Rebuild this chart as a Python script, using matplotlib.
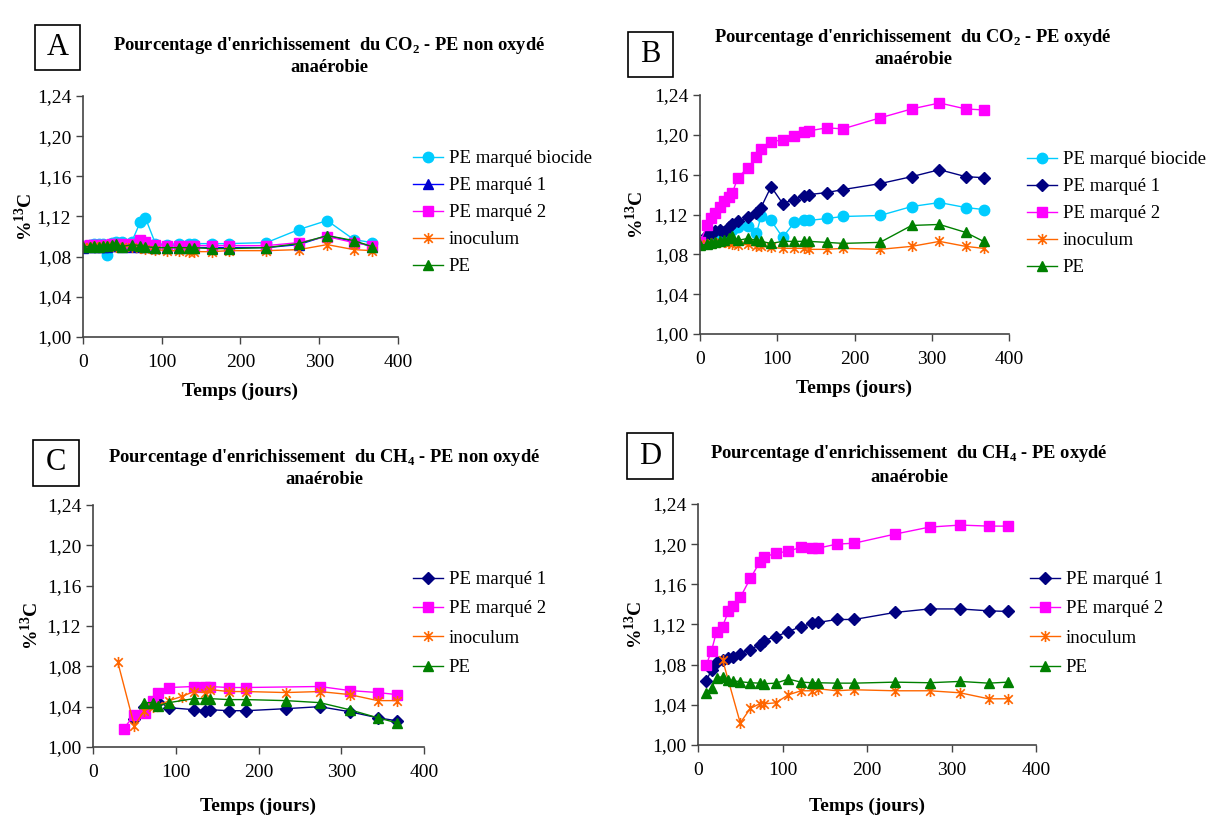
import numpy as np
import matplotlib
matplotlib.use('Agg')
import matplotlib.pyplot as plt
from matplotlib.path import Path
from matplotlib.patches import Rectangle

plt.rcParams['font.family'] = ['Liberation Serif', 'DejaVu Serif']
plt.rcParams['mathtext.fontset'] = 'custom'
plt.rcParams['mathtext.rm'] = 'Liberation Serif'
plt.rcParams['mathtext.bf'] = 'Liberation Serif:bold'

# ---- data ----
days_ab = [0, 9, 14, 20, 26, 31, 37, 42, 49, 62, 73, 79, 92, 107, 122, 135, 141, 164, 185, 233, 274, 310, 344, 367]

a_biocide = [1.091, 1.092, 1.093, 1.093, 1.093, 1.082, 1.094, 1.095, 1.095, 1.095, 1.115, 1.119, 1.093, 1.092,
             1.093, 1.093, 1.093, 1.093, 1.093, 1.094, 1.107, 1.116, 1.097, 1.094]
a_marque1 = [1.089, 1.090, 1.090, 1.090, 1.090, 1.090, 1.091, 1.091, 1.090, 1.090, 1.090, 1.090, 1.089, 1.089,
             1.089, 1.089, 1.089, 1.089, 1.089, 1.089, 1.092, 1.101, 1.095, 1.090]
a_marque2 = [1.091, 1.092, 1.092, 1.092, 1.092, 1.092, 1.093, 1.093, 1.093, 1.093, 1.097, 1.095, 1.092, 1.091,
             1.091, 1.091, 1.091, 1.091, 1.091, 1.091, 1.094, 1.100, 1.094, 1.091]
a_inoculum = [1.090, 1.090, 1.091, 1.090, 1.091, 1.091, 1.091, 1.090, 1.090, 1.090, 1.089, 1.088, 1.087, 1.086,
              1.086, 1.085, 1.085, 1.085, 1.086, 1.086, 1.087, 1.092, 1.087, 1.086]
a_pe = [1.090, 1.090, 1.091, 1.090, 1.091, 1.091, 1.092, 1.093, 1.090, 1.092, 1.091, 1.090, 1.089, 1.089,
        1.089, 1.089, 1.089, 1.088, 1.088, 1.089, 1.093, 1.101, 1.096, 1.090]

b_biocide = [1.091, 1.093, 1.094, 1.097, 1.096, 1.099, 1.102, 1.104, 1.107, 1.108, 1.101, 1.118, 1.114, 1.097,
             1.112, 1.114, 1.114, 1.116, 1.118, 1.119, 1.128, 1.132, 1.127, 1.125]
b_marque1 = [1.090, 1.099, 1.100, 1.103, 1.104, 1.102, 1.107, 1.110, 1.113, 1.117, 1.122, 1.127, 1.148, 1.131,
             1.135, 1.139, 1.140, 1.142, 1.145, 1.151, 1.158, 1.165, 1.158, 1.157]
b_marque2 = [1.092, 1.109, 1.116, 1.122, 1.128, 1.134, 1.138, 1.142, 1.157, 1.167, 1.178, 1.186, 1.193, 1.195,
             1.199, 1.203, 1.204, 1.207, 1.206, 1.217, 1.226, 1.232, 1.226, 1.225]
b_inoculum = [1.090, 1.090, 1.091, 1.091, 1.092, 1.092, 1.091, 1.090, 1.089, 1.090, 1.088, 1.088, 1.087, 1.086,
              1.086, 1.086, 1.085, 1.085, 1.086, 1.085, 1.088, 1.093, 1.088, 1.086]
b_pe = [1.089, 1.090, 1.091, 1.092, 1.093, 1.094, 1.096, 1.098, 1.094, 1.096, 1.094, 1.093, 1.091, 1.093,
        1.093, 1.093, 1.093, 1.092, 1.091, 1.092, 1.109, 1.110, 1.102, 1.093]

c_marque1_days = [50, 62, 73, 79, 92, 122, 135, 141, 164, 185, 233, 274, 310, 344, 367]
c_marque1 = [1.028, 1.040, 1.044, 1.045, 1.039, 1.037, 1.036, 1.037, 1.036, 1.036, 1.038, 1.040, 1.035, 1.029, 1.026]
c_marque2_days = [37, 50, 63, 73, 79, 92, 122, 135, 141, 164, 185, 274, 310, 344, 367]
c_marque2 = [1.018, 1.032, 1.034, 1.046, 1.054, 1.059, 1.060, 1.060, 1.060, 1.059, 1.059, 1.060, 1.056, 1.054, 1.052]
c_inoculum_days = [30, 50, 62, 73, 79, 92, 107, 122, 135, 141, 164, 185, 233, 274, 310, 344, 367]
c_inoculum = [1.084, 1.021, 1.036, 1.040, 1.041, 1.046, 1.050, 1.055, 1.054, 1.057, 1.055, 1.055, 1.054, 1.055,
              1.052, 1.046, 1.046]
c_pe_days = [62, 73, 79, 92, 122, 135, 141, 164, 185, 233, 274, 310, 344, 367]
c_pe = [1.044, 1.044, 1.041, 1.044, 1.048, 1.048, 1.048, 1.047, 1.047, 1.046, 1.044, 1.037, 1.029, 1.024]

days_d = [10, 16, 22, 29, 36, 41, 50, 62, 73, 78, 92, 107, 122, 135, 142, 164, 185, 233, 274, 310, 344, 367]
d_marque1 = [1.064, 1.075, 1.083, 1.085, 1.0865, 1.088, 1.091, 1.095, 1.100, 1.104, 1.108, 1.113, 1.118, 1.121,
             1.122, 1.125, 1.125, 1.132, 1.1355, 1.1355, 1.1336, 1.133]
d_marque2 = [1.080, 1.094, 1.113, 1.118, 1.133, 1.138, 1.147, 1.166, 1.182, 1.187, 1.191, 1.193, 1.197, 1.1965,
             1.196, 1.200, 1.201, 1.210, 1.217, 1.219, 1.218, 1.218]
d_pe = [1.052, 1.057, 1.067, 1.068, 1.065, 1.064, 1.063, 1.062, 1.0616, 1.061, 1.0616, 1.0656, 1.0626, 1.062,
        1.062, 1.0616, 1.0616, 1.0626, 1.062, 1.0633, 1.0616, 1.0626]
d_inoculum_days = [29, 50, 62, 73, 78, 92, 107, 122, 135, 142, 164, 185, 233, 274, 310, 344, 367]
d_inoculum = [1.085, 1.022, 1.0365, 1.041, 1.041, 1.042, 1.050, 1.054, 1.054, 1.056, 1.054, 1.055, 1.054, 1.054,
              1.052, 1.046, 1.046]

yticks = [1.00, 1.04, 1.08, 1.12, 1.16, 1.20, 1.24]
xticks = [0, 100, 200, 300, 400]

# excel style asterisk marker
asterisk = Path([(-1, -1), (1, 1), (-1, 1), (1, -1), (0, -1.3), (0, 1.3)],
                [Path.MOVETO, Path.LINETO, Path.MOVETO, Path.LINETO, Path.MOVETO, Path.LINETO])

sty = {
    'biocide': dict(color='#00CCFF', marker='o', ms=7.5, mec='#00CCFF', mfc='#00CCFF'),
    'm1_tri': dict(color='#0000FF', marker='^', ms=7.5, mec='#0000CC', mfc='#0000CC'),
    'm1': dict(color='#000080', marker='D', ms=6.5, mec='#000080', mfc='#000080'),
    'm2': dict(color='#FF00FF', marker='s', ms=7.5, mec='#FF00FF', mfc='#FF00FF'),
    'ino': dict(color='#FF6600', marker=asterisk, ms=8, mec='#FF6600', mfc='none', mew=1.2),
    'pe': dict(color='#008000', marker='^', ms=7.5, mec='#008000', mfc='#008000'),
}

W, H = 1207, 816
fig = plt.figure(figsize=(W / 100, H / 100), dpi=100)


def px_axes(x0, y0, x1, y1):
    return fig.add_axes([x0 / W, 1 - y1 / H, (x1 - x0) / W, (y1 - y0) / H])


def style_axes(ax, ylab_x, xlab_y):
    ax.set_xlim(0, 400)
    ax.set_ylim(1.00, 1.24)
    ax.set_xticks(xticks)
    ax.set_yticks(yticks)
    ax.set_yticklabels([('%.2f' % v).replace('.', ',') for v in yticks])
    ax.spines['top'].set_visible(False)
    ax.spines['right'].set_visible(False)
    for s in ('left', 'bottom'):
        ax.spines[s].set_color('#444444')
        ax.spines[s].set_linewidth(1.2)
    ax.tick_params(direction='out', length=5, width=1, colors='#444444', labelcolor='black',
                   labelsize=14)
    ax.tick_params(axis='x', pad=7)
    ax.set_xlabel('Temps (jours)', fontsize=14, fontweight='bold')
    ax.set_ylabel(r'%$^{\mathbf{13}}$C', fontsize=14, fontweight='bold')
    ax.yaxis.set_label_coords(ylab_x, 0.5)
    ax.xaxis.set_label_coords(0.5, xlab_y)


def letter_box(x0, y0, size, letter):
    fig.patches.append(Rectangle((x0 / W, 1 - (y0 + size) / H), size / W, size / H,
                                 transform=fig.transFigure, fill=False, ec='black', lw=1.2))
    fig.text((x0 + size / 2) / W, 1 - (y0 + size / 2) / H, letter, fontsize=22,
             ha='center', va='center')


def title(xc, y1, y2, line1):
    fig.text(xc / W, 1 - y1 / H, line1, fontsize=13.3, fontweight='bold', ha='center', va='center')
    fig.text(xc / W, 1 - y2 / H, 'anaérobie', fontsize=13.3, fontweight='bold', ha='center', va='center')


def legend(ax, x, y, spacing=0.53):
    ax.legend(loc='upper left', bbox_to_anchor=(x / W, 1 - y / H), bbox_transform=fig.transFigure,
              frameon=False, fontsize=13.5, handlelength=1.6, handletextpad=0.3, labelspacing=spacing,
              borderaxespad=0, borderpad=0)


# ---- A ----
axA = px_axes(83, 96, 398, 337)
axA.plot(days_ab, a_biocide, lw=1, label='PE marqué biocide', **sty['biocide'])
axA.plot(days_ab, a_marque1, lw=1, label='PE marqué 1', **sty['m1_tri'])
axA.plot(days_ab, a_marque2, lw=1, label='PE marqué 2', **sty['m2'])
axA.plot(days_ab, a_inoculum, lw=1, label='inoculum', **sty['ino'])
axA.plot(days_ab, a_pe, lw=1, label='PE', **sty['pe'])
style_axes(axA, -0.15, -0.19)
legend(axA, 413, 150)
letter_box(35, 25, 45, 'A')
title(329, 46, 68, r"Pourcentage d'enrichissement  du CO$_\mathbf{2}$ - PE non oxydé")

# ---- B ----
axB = px_axes(700, 95, 1009, 334)
axB.plot(days_ab, b_biocide, lw=1, label='PE marqué biocide', **sty['biocide'])
axB.plot(days_ab, b_marque1, lw=1, label='PE marqué 1', **sty['m1'])
axB.plot(days_ab, b_marque2, lw=1, label='PE marqué 2', **sty['m2'])
axB.plot(days_ab, b_inoculum, lw=1, label='inoculum', **sty['ino'])
axB.plot(days_ab, b_pe, lw=1, label='PE', **sty['pe'])
style_axes(axB, -0.17, -0.19)
legend(axB, 1027, 151)
letter_box(628, 32, 45, 'B')
title(913, 38, 60, r"Pourcentage d'enrichissement  du CO$_\mathbf{2}$ - PE oxydé")

# ---- C ----
axC = px_axes(93, 505, 424, 747)
axC.plot(c_marque1_days, c_marque1, lw=1, label='PE marqué 1', **sty['m1'])
axC.plot(c_marque2_days, c_marque2, lw=1, label='PE marqué 2', **sty['m2'])
axC.plot(c_inoculum_days, c_inoculum, lw=1, label='inoculum', **sty['ino'])
axC.plot(c_pe_days, c_pe, lw=1, label='PE', **sty['pe'])
style_axes(axC, -0.155, -0.21)
legend(axC, 413, 571, spacing=0.65)
letter_box(33, 440, 46, 'C')
title(324, 458, 479, r"Pourcentage d'enrichissement  du CH$_\mathbf{4}$ - PE non oxydé")

# ---- D ----
axD = px_axes(698, 504, 1036, 745)
axD.plot(days_d, d_marque1, lw=1, label='PE marqué 1', **sty['m1'])
axD.plot(days_d, d_marque2, lw=1, label='PE marqué 2', **sty['m2'])
axD.plot(d_inoculum_days, d_inoculum, lw=1, label='inoculum', **sty['ino'])
axD.plot(days_d, d_pe, lw=1, label='PE', **sty['pe'])
style_axes(axD, -0.155, -0.22)
legend(axD, 1030, 571, spacing=0.65)
letter_box(627, 433, 46, 'D')
title(909, 453, 478, r"Pourcentage d'enrichissement  du CH$_\mathbf{4}$ - PE oxydé")

fig.savefig('out.png', dpi=100)
